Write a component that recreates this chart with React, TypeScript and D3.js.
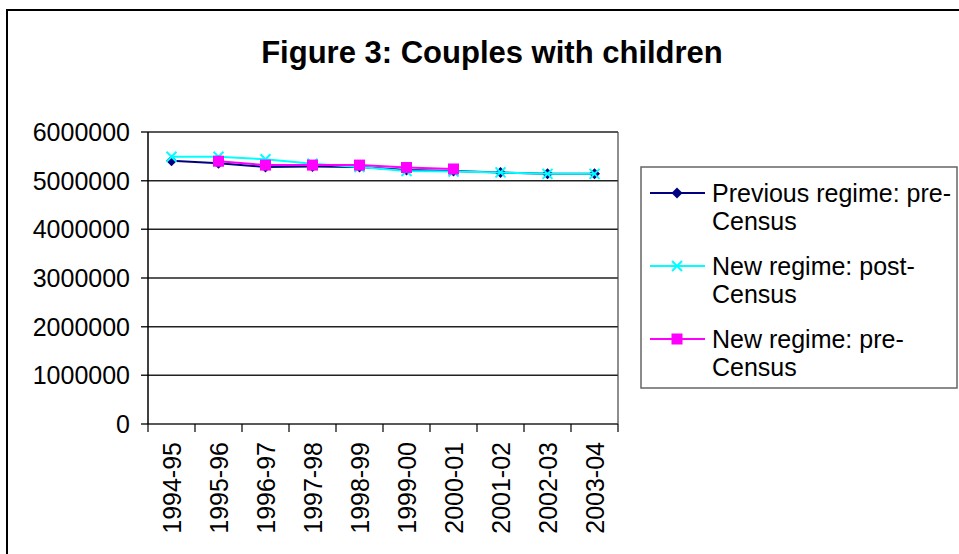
import * as d3 from 'd3';

const years = [
  '1994-95', '1995-96', '1996-97', '1997-98', '1998-99',
  '1999-00', '2000-01', '2001-02', '2002-03', '2003-04',
];

// Previous regime: pre-Census
const previousPre = [5410000, 5360000, 5280000, 5290000, 5280000, 5220000, 5200000, 5170000, 5140000, 5140000];
// New regime: post-Census
const newPost = [5490000, 5490000, 5440000, 5350000, 5280000, 5200000, 5190000, 5170000, 5140000, 5140000];
// New regime: pre-Census
const newPre = [null, 5400000, 5320000, 5320000, 5320000, 5270000, 5240000, null, null, null];

const yTicks = [0, 1000000, 2000000, 3000000, 4000000, 5000000, 6000000];

const legendLabels = [
  ['Previous regime: pre-', 'Census'],
  ['New regime: post-', 'Census'],
  ['New regime: pre-', 'Census'],
];

const W = 959;
const H = 554;
const font = '"Liberation Sans", Arial, sans-serif';

const x = d3.scaleBand<string>().domain(years).range([148, 618]);
const y = d3.scaleLinear().domain([0, 6000000]).range([424, 132]);

type Marker = 'diamond' | 'x' | 'square';

const series: { name: string; values: (number | null)[]; color: string; marker: Marker }[] = [
  { name: 'prev', values: previousPre, color: '#000080', marker: 'diamond' },
  { name: 'post', values: newPost, color: '#00FFFF', marker: 'x' },
  { name: 'pre', values: newPre, color: '#FF00FF', marker: 'square' },
];

function markerShape(m: Marker, color: string, cx: number, cy: number, key: string) {
  if (m === 'diamond') {
    return <path key={key} d={`M${cx},${cy - 5.5}L${cx + 5.5},${cy}L${cx},${cy + 5.5}L${cx - 5.5},${cy}Z`} fill={color} />;
  }
  if (m === 'square') {
    return <rect key={key} x={cx - 5.5} y={cy - 5.5} width={11} height={11} fill={color} />;
  }
  return (
    <path
      key={key}
      d={`M${cx - 5},${cy - 5}L${cx + 5},${cy + 5}M${cx - 5},${cy + 5}L${cx + 5},${cy - 5}`}
      stroke={color}
      strokeWidth={2}
      fill="none"
    />
  );
}

export default function App() {
  const cx = (c: string) => (x(c) ?? 0) + x.bandwidth() / 2;
  const line = d3
    .line<number | null>()
    .defined((d) => d != null)
    .x((_, i) => cx(years[i]))
    .y((d) => y(d as number));

  const boundaries = [...years.map((c) => x(c) ?? 0), x.range()[1]];

  return (
    <>
      <style>{'body{margin:0}'}</style>
      <svg width={W} height={H} style={{ display: 'block', fontFamily: font }}>
        <rect x={0} y={0} width={W} height={H} fill="#fff" />
        <rect x={7} y={10} width={1000} height={700} fill="none" stroke="#000" strokeWidth={2} />

        <text x={492} y={63} textAnchor="middle" fontSize={31} fontWeight="bold">
          Figure 3: Couples with children
        </text>

        {/* gridlines + y axis */}
        {yTicks.map((t) => (
          <g key={t}>
            <line x1={141} x2={618} y1={y(t)} y2={y(t)} stroke="#222" strokeWidth={1.5} />
            <text x={130} y={y(t)} textAnchor="end" dominantBaseline="central" fontSize={25}>
              {t}
            </text>
          </g>
        ))}
        <line x1={148} x2={148} y1={y(6000000)} y2={y(0)} stroke="#000" strokeWidth={1.5} />
        <line x1={618} x2={618} y1={y(6000000)} y2={y(0)} stroke="#444" strokeWidth={1.2} />

        {/* x axis */}
        {boundaries.map((b, i) => (
          <line key={i} x1={b} x2={b} y1={y(0)} y2={y(0) + 8} stroke="#000" strokeWidth={1.2} />
        ))}
        {years.map((c) => (
          <text
            key={c}
            transform={`translate(${cx(c)},442) rotate(-90)`}
            textAnchor="end"
            dominantBaseline="central"
            fontSize={25}
          >
            {c}
          </text>
        ))}

        {/* series */}
        {series.map((s) => (
          <g key={s.name}>
            <path d={line(s.values) ?? ''} fill="none" stroke={s.color} strokeWidth={2} />
            {s.values.map((v, i) => (v == null ? null : markerShape(s.marker, s.color, cx(years[i]), y(v), `${s.name}${i}`)))}
          </g>
        ))}

        {/* legend */}
        <rect x={641} y={167} width={316} height={221} fill="#fff" stroke="#666" strokeWidth={1.5} />
        {series.map((s, i) => {
          const ly = 193 + i * 73;
          return (
            <g key={s.name}>
              <line x1={650} x2={705} y1={ly} y2={ly} stroke={s.color} strokeWidth={2} />
              {markerShape(s.marker, s.color, 677, ly, `lg${i}`)}
              <text x={712} y={ly} dominantBaseline="central" fontSize={25}>
                {legendLabels[i][0]}
              </text>
              <text x={712} y={ly + 28} dominantBaseline="central" fontSize={25}>
                {legendLabels[i][1]}
              </text>
            </g>
          );
        })}
      </svg>
    </>
  );
}
